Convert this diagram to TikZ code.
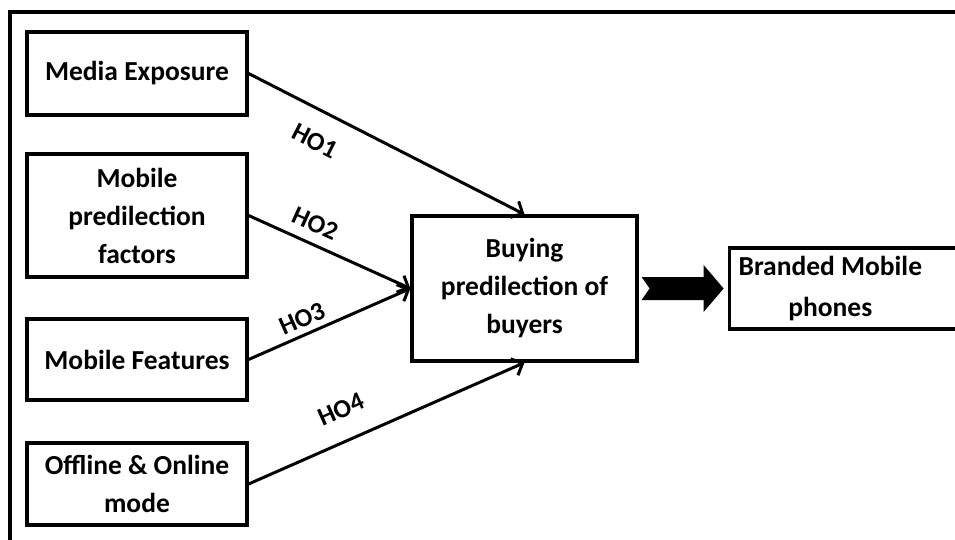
\documentclass[tikz,border=0pt]{standalone}
\usepackage{fontspec}
\setmainfont{Carlito}
\usetikzlibrary{arrows.meta,calc}
\begin{document}
\begin{tikzpicture}[x=1pt,y=-1pt,
  box/.style={draw, line width=3.2pt, fill=white, align=center, inner sep=0pt,
    font=\bfseries\fontsize{27.5}{38}\selectfont},
  link/.style={line width=3pt, -{Straight Barb[length=9pt,width=18pt]}},
  hlab/.style={font=\bfseries\fontsize{26}{30}\selectfont, sloped, inner sep=2pt}]
\useasboundingbox (0,0) rectangle (955,540);
\clip (0,0) rectangle (955,540);
\draw[line width=3.2pt] (10,560) -- (10,12) -- (975,12);
\node[box, minimum width=220, minimum height=83] (media) at (137,73.5) {Media Exposure};
\node[box, minimum width=220, minimum height=123] (pred) at (137,215.5) {Mobile\\predilection\\factors};
\node[box, minimum width=220, minimum height=81] (feat) at (137,359.5) {Mobile Features};
\node[box, minimum width=220, minimum height=82] (off) at (137,484) {Offline \& Online\\mode};
\node[box, minimum width=225, minimum height=145] (buy) at (524.5,288.5) {Buying\\predilection of\\buyers};
\node[box, minimum height=81, anchor=west] (brand) at (728,288.5)
  {\hspace*{9pt}\begin{tabular}{@{}c@{}}Branded Mobile\\[3pt]phones\end{tabular}\hspace*{37pt}};
\draw[link] (media.east) -- node[hlab, below=18pt, pos=0.29] {HO1} (buy.north);
\draw[link] (pred.east) -- node[hlab, above=8pt, pos=0.36] {HO2} (buy.west);
\draw[link] (feat.east) -- node[hlab, above=4pt, pos=0.37] {HO3} (buy.west);
\draw[link] (off.east) -- node[hlab, above=19pt, pos=0.38] {HO4} (buy.south);
\fill (buy.east) ++(3,-11.5) -- ++(62,0) -- ++(0,-12) -- ++(20,23.5) -- ++(-20,23.5)
  -- ++(0,-12) -- ++(-62,0) -- ++(8,-11.5) -- cycle;
\end{tikzpicture}
\end{document}
